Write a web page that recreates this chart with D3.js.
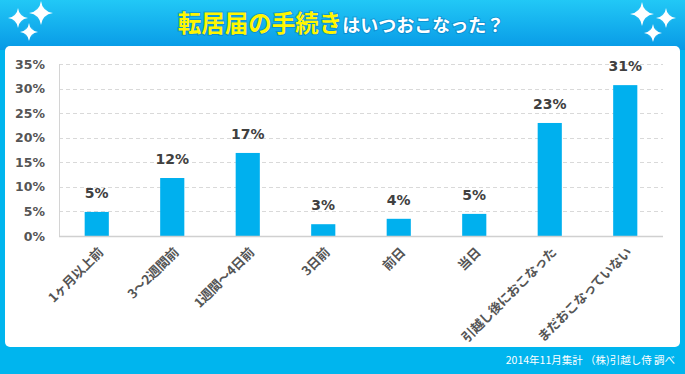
<!DOCTYPE html>
<html lang="ja">
    <head>
        <meta charset="utf-8">
        <title>転居届の手続きはいつおこなった？</title>
        <script type="text/javascript" src="https://cdn.jsdelivr.net/npm/d3@7"></script>
        <style type="text/css">
            body { margin: 0; background: #00b5ee; }
            svg { display: block; }
        </style>
    </head>

    <body>
        <script type="text/javascript">
            // Data
            var categories = ["1ヶ月以上前", "3〜2週間前", "1週間〜4日前", "3日前",
                              "前日", "当日", "引越し後におこなった", "まだおこなっていない"];
            var values = [4.9, 11.8, 16.9, 2.4, 3.5, 4.5, 23.0, 30.7];
            var valueLabels = ["5%", "12%", "17%", "3%", "4%", "5%", "23%", "31%"];
            var yTicks = [0, 5, 10, 15, 20, 25, 30, 35];

            var w = 685;
            var h = 374;
            var margin = { top: 64, right: 22, bottom: 138, left: 59 };
            var jp = "'Noto Sans CJK JP', sans-serif";
            var num = "'DejaVu Sans', Verdana, sans-serif";

            var svg = d3.select("body")
                        .append("svg")
                        .attr("width", w)
                        .attr("height", h);

            // Header gradient
            var defs = svg.append("defs");
            var grad = defs.append("linearGradient")
                .attr("id", "hdr")
                .attr("x1", 0).attr("y1", 0).attr("x2", 0).attr("y2", 1);
            grad.append("stop").attr("offset", "0%").attr("stop-color", "#22c8f6");
            grad.append("stop").attr("offset", "100%").attr("stop-color", "#0799e6");

            var glow = defs.append("filter").attr("id", "glow")
                .attr("x", "-50%").attr("y", "-50%").attr("width", "200%").attr("height", "200%");
            glow.append("feGaussianBlur").attr("stdDeviation", 1.5);

            svg.append("rect")
                .attr("width", w).attr("height", h)
                .attr("fill", "#00b5ee");
            svg.append("rect")
                .attr("width", w).attr("height", 50)
                .attr("fill", "url(#hdr)");

            // White card
            svg.append("rect")
                .attr("x", 5).attr("y", 46)
                .attr("width", 675).attr("height", 301)
                .attr("rx", 5)
                .attr("fill", "#ffffff");

            // Sparkles
            var stars = [[18, 18, 10], [41, 13, 12], [29, 32, 9],
                         [642, 14, 12], [666, 18, 10], [653, 33, 9]];
            function starPath(s) {
                var x = s[0], y = s[1], r = s[2], k = r * 0.12;
                return "M" + x + "," + (y - r) +
                       "Q" + (x + k) + "," + (y - k) + " " + (x + r) + "," + y +
                       "Q" + (x + k) + "," + (y + k) + " " + x + "," + (y + r) +
                       "Q" + (x - k) + "," + (y + k) + " " + (x - r) + "," + y +
                       "Q" + (x - k) + "," + (y - k) + " " + x + "," + (y - r) + "Z";
            }
            svg.selectAll("circle.glow")
                .data(stars)
                .enter()
                .append("circle")
                .attr("cx", function(d) { return d[0]; })
                .attr("cy", function(d) { return d[1]; })
                .attr("r", function(d) { return d[2] * 0.35; })
                .attr("fill", "#ffffff")
                .attr("opacity", 0.7)
                .attr("filter", "url(#glow)");
            svg.selectAll("path.star")
                .data(stars)
                .enter()
                .append("path")
                .attr("d", starPath)
                .attr("fill", "#ffffff");

            // Title
            var title = svg.append("text")
                .attr("x", 341)
                .attr("y", 32)
                .attr("text-anchor", "middle")
                .attr("font-family", jp)
                .attr("font-weight", "bold")
                .style("paint-order", "stroke")
                .attr("stroke", "rgba(0,90,160,0.35)")
                .attr("stroke-width", 2);
            title.append("tspan")
                .attr("fill", "#fff600")
                .attr("font-size", "23.5px")
                .text("転居届の手続き");
            title.append("tspan")
                .attr("fill", "#ffffff")
                .attr("font-size", "18px")
                .text("はいつおこなった？");

            // Scales
            var x = d3.scaleBand()
                .domain(categories)
                .range([margin.left, w - margin.right])
                .paddingInner(0.68)
                .paddingOuter(0.34);

            var y = d3.scaleLinear()
                .domain([0, 35])
                .range([h - margin.bottom, margin.top]);

            // Gridlines
            svg.selectAll("line.grid")
                .data(yTicks.slice(1))
                .enter()
                .append("line")
                .attr("x1", margin.left)
                .attr("x2", w - margin.right)
                .attr("y1", function(d) { return Math.round(y(d)) + 0.5; })
                .attr("y2", function(d) { return Math.round(y(d)) + 0.5; })
                .attr("stroke", "#d9d9d9")
                .attr("stroke-dasharray", "4,3");

            // Y axis
            var yAxis = svg.append("g")
                .attr("transform", "translate(" + margin.left + ",0)")
                .call(d3.axisLeft(y)
                    .tickValues(yTicks)
                    .tickSize(0)
                    .tickPadding(14)
                    .tickFormat(function(d) { return d + "%"; }));
            yAxis.select(".domain").attr("stroke", "#d4d4d4").attr("d",
                "M0.5," + y(0) + "V" + y(35));
            yAxis.selectAll("text")
                .attr("font-family", num)
                .attr("font-weight", "bold")
                .attr("font-size", "12.5px")
                .attr("fill", "#555555");

            // Bars
            svg.selectAll("rect.bar")
                .data(values)
                .enter()
                .append("rect")
                .attr("class", "bar")
                .attr("x", function(d, i) { return x(categories[i]); })
                .attr("y", function(d) { return y(d); })
                .attr("width", x.bandwidth())
                .attr("height", function(d) { return y(0) - y(d); })
                .attr("fill", "#00b0ee");

            // Value labels
            svg.selectAll("text.val")
                .data(values)
                .enter()
                .append("text")
                .attr("x", function(d, i) { return x(categories[i]) + x.bandwidth() / 2; })
                .attr("y", function(d) { return y(d) - 14; })
                .attr("text-anchor", "middle")
                .attr("font-family", num)
                .attr("font-weight", "bold")
                .attr("font-size", "14px")
                .attr("fill", "#404040")
                .text(function(d, i) { return valueLabels[i]; });

            // X axis baseline
            svg.append("line")
                .attr("x1", margin.left)
                .attr("x2", w - margin.right)
                .attr("y1", y(0) + 0.5)
                .attr("y2", y(0) + 0.5)
                .attr("stroke", "#d0d0d0")
                .attr("stroke-width", 1.5);

            // Category labels, rotated
            svg.selectAll("text.cat")
                .data(categories)
                .enter()
                .append("text")
                .attr("transform", function(d) {
                    return "translate(" + (x(d) + x.bandwidth() / 2 + 4) + "," + (y(0) + 14) + ") rotate(-45)";
                })
                .attr("text-anchor", "end")
                .attr("dy", "0.35em")
                .attr("font-family", jp)
                .attr("font-weight", "bold")
                .attr("font-size", "13px")
                .attr("letter-spacing", "-0.3px")
                .attr("fill", "#555555")
                .text(function(d) { return d; });

            // Footer
            svg.append("text")
                .attr("x", 675)
                .attr("y", 364)
                .attr("text-anchor", "end")
                .attr("font-family", jp)
                .attr("font-size", "10.5px")
                .attr("fill", "#ffffff")
                .text("2014年11月集計 （株)引越し侍 調べ");
        </script>
    </body>
</html>
